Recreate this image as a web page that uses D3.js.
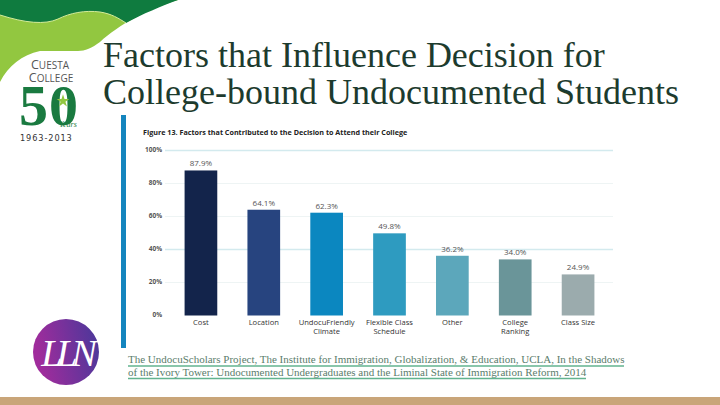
<!DOCTYPE html>
<html>
<head>
<meta charset="utf-8">
<script src="https://cdn.jsdelivr.net/npm/d3@7"></script>
<style>
  body { margin: 0; background: #fff; }
  svg { display: block; }
</style>
</head>
<body>
<script>
const w = 720;
const h = 405;

// chart data
const categories = [
	["Cost"],
	["Location"],
	["UndocuFriendly", "Climate"],
	["Flexible Class", "Schedule"],
	["Other"],
	["College", "Ranking"],
	["Class Size"]
];
const values = [87.9, 64.1, 62.3, 49.8, 36.2, 34.0, 24.9];
const barColors = ["#13244b", "#27447f", "#0b87c0", "#2e9bc0", "#5ca7bb", "#6a9599", "#9babad"];
const yTicks = [0, 20, 40, 60, 80, 100];

const titleLines = ["Factors that Influence Decision for", "College-bound Undocumented Students"];
const figTitle = "Figure 13. Factors that Contributed to the Decision to Attend their College";
const citeLines = [
	"The UndocuScholars Project, The Institute for Immigration, Globalization, & Education, UCLA, In the Shadows",
	"of the Ivory Tower: Undocumented Undergraduates and the Liminal State of Immigration Reform, 2014"
];

const svg = d3.select("body").append("svg").attr("width", w).attr("height", h);

// top-left hills decoration
svg.append("path")
	.attr("d", "M0,0 H178 C150,8 118,25 100,42 C92,48 85,51 78,51 L40,51 C22,55 8,66 0,82 Z")
	.attr("fill", "#92c740");
svg.append("path")
	.attr("d", "M0,0 H178 C162,6 142,14 126,23 C118,18 112,14 100,12 C85,10 70,13 58,19 C45,25 25,23 0,15 Z")
	.attr("fill", "#0f7b3f");
svg.append("path")
	.attr("d", "M0,15 C25,23 45,25 58,19 C70,13 85,10 100,12 C112,14 118,18 126,23")
	.attr("fill", "none").attr("stroke", "#d4ec9a").attr("stroke-width", 1);

// college logo
const logo = svg.append("g").attr("font-family", "'Open Sans', sans-serif").attr("fill", "#555");
const cuesta = logo.append("text").attr("x", 50).attr("y", 69).attr("text-anchor", "middle").attr("font-size", 10);
cuesta.append("tspan").attr("font-size", 12.5).text("C");
cuesta.append("tspan").text("UESTA");
const college = logo.append("text").attr("x", 51).attr("y", 82).attr("text-anchor", "middle").attr("font-size", 10);
college.append("tspan").attr("font-size", 12.5).text("C");
college.append("tspan").text("OLLEGE");
logo.append("text").attr("x", 19).attr("y", 125)
	.attr("font-family", "'Liberation Serif', serif")
	.attr("font-size", 58).attr("font-weight", "bold").attr("letter-spacing", 1)
	.attr("fill", "#1a7a40").text("50");
logo.append("path")
	.attr("d", d3.symbol(d3.symbolStar, 50)())
	.attr("transform", "translate(63,101)")
	.attr("fill", "#92c740");
logo.append("text").attr("x", 68).attr("y", 127).attr("text-anchor", "middle")
	.attr("font-size", 8).attr("font-style", "italic").attr("font-family", "'Liberation Serif', serif")
	.attr("fill", "#1a7a40").text("Years");
logo.append("text").attr("x", 20).attr("y", 141)
	.attr("font-family", "'DejaVu Sans', sans-serif")
	.attr("font-size", 8.2).attr("letter-spacing", 0.9)
	.attr("fill", "#333").text("1963-2013");

// LLN badge
const grad = svg.append("defs").append("linearGradient").attr("id", "lln")
	.attr("x1", "0%").attr("x2", "100%").attr("y1", "20%").attr("y2", "0%");
grad.append("stop").attr("offset", "0%").attr("stop-color", "#a02c9c");
grad.append("stop").attr("offset", "100%").attr("stop-color", "#47389a");
svg.append("circle").attr("cx", 66).attr("cy", 352).attr("r", 33).attr("fill", "url(#lln)");
svg.append("text").attr("x", 66).attr("y", 366).attr("text-anchor", "middle")
	.attr("font-family", "'Liberation Serif', serif").attr("font-style", "italic")
	.attr("font-size", 38).attr("fill", "#fff").attr("letter-spacing", -6).text("LLN");

// slide title
svg.append("g").selectAll("text").data(titleLines).join("text")
	.attr("x", 103).attr("y", (d, i) => 67 + i * 37)
	.attr("font-family", "'Liberation Serif', 'Times New Roman', serif")
	.attr("font-size", 36).attr("fill", "#1d3b2e")
	.text((d) => d);

// accent bar at left of figure
svg.append("rect").attr("x", 121).attr("y", 115).attr("width", 5).attr("height", 233).attr("fill", "#1485be");

svg.append("text").attr("x", 143).attr("y", 135)
	.attr("font-family", "'Open Sans', sans-serif").attr("font-weight", "bold")
	.attr("font-size", 7.2).attr("fill", "#222").text(figTitle);

// scales
const xScale = d3.scaleBand()
	.domain(d3.range(values.length))
	.range([169.5, 609.5])
	.paddingInner(0.48)
	.paddingOuter(0.24);

const yScale = d3.scaleLinear().domain([0, 100]).range([315.5, 150.5]);

// gridlines
svg.append("g").selectAll("line").data(yTicks.filter((t) => t > 0)).join("line")
	.attr("x1", 165).attr("x2", 613)
	.attr("y1", (d) => yScale(d)).attr("y2", (d) => yScale(d))
	.attr("stroke", (d) => (d === 100 || d === 40 ? "#d3eaee" : "#eef4f4"))
	.attr("stroke-width", (d) => (d === 100 || d === 40 ? 1.5 : 1));

// y axis labels
const yAxis = d3.axisLeft(yScale).tickValues(yTicks).tickFormat((d) => d + "%").tickSize(0).tickPadding(0);
const yg = svg.append("g").attr("transform", "translate(162,0)").call(yAxis);
yg.select(".domain").remove();
yg.selectAll("text").attr("font-family", "'Open Sans', sans-serif").attr("font-size", 6.5)
	.attr("font-weight", "bold").attr("fill", "#555").attr("dy", "0.1em");

// bars
svg.append("g").selectAll("rect").data(values).join("rect")
	.attr("x", (_, i) => xScale(i))
	.attr("y", (d) => yScale(d))
	.attr("width", xScale.bandwidth())
	.attr("height", (d) => yScale(0) - yScale(d))
	.attr("fill", (_, i) => barColors[i]);

// value labels
svg.append("g").selectAll("text").data(values).join("text")
	.attr("x", (_, i) => xScale(i) + xScale.bandwidth() / 2)
	.attr("y", (d) => yScale(d) - 4)
	.attr("text-anchor", "middle")
	.attr("font-family", "'Open Sans', sans-serif").attr("font-size", 8)
	.attr("fill", "#555")
	.text((d) => d.toFixed(1) + "%");

// category labels
const cat = svg.append("g").selectAll("text").data(categories).join("text")
	.attr("x", (_, i) => xScale(i) + xScale.bandwidth() / 2)
	.attr("y", 325)
	.attr("text-anchor", "middle")
	.attr("font-family", "'Open Sans', sans-serif").attr("font-size", 7.6)
	.attr("fill", "#333");
cat.selectAll("tspan").data((d) => d).join("tspan")
	.attr("x", function () { return d3.select(this.parentNode).attr("x"); })
	.attr("dy", (d, i) => (i === 0 ? 0 : 8.5))
	.text((d) => d);

// citation
svg.append("g").selectAll("text").data(citeLines).join("text")
	.attr("x", 128).attr("y", (d, i) => 363 + i * 12.5)
	.attr("font-family", "'Liberation Serif', serif").attr("font-size", 11)
	.attr("fill", "#5b7d6c")
	.text((d) => d);
svg.append("g").selectAll("line").data(citeLines).join("line")
	.attr("x1", 128).attr("x2", (d, i) => (i === 0 ? 624 : 586))
	.attr("y1", (d, i) => 366 + i * 12.5).attr("y2", (d, i) => 366 + i * 12.5)
	.attr("stroke", "#62b38f").attr("stroke-width", 1.5);

// bottom band
svg.append("rect").attr("x", 0).attr("y", 397).attr("width", w).attr("height", 8).attr("fill", "#c9a579");
</script>
</body>
</html>
